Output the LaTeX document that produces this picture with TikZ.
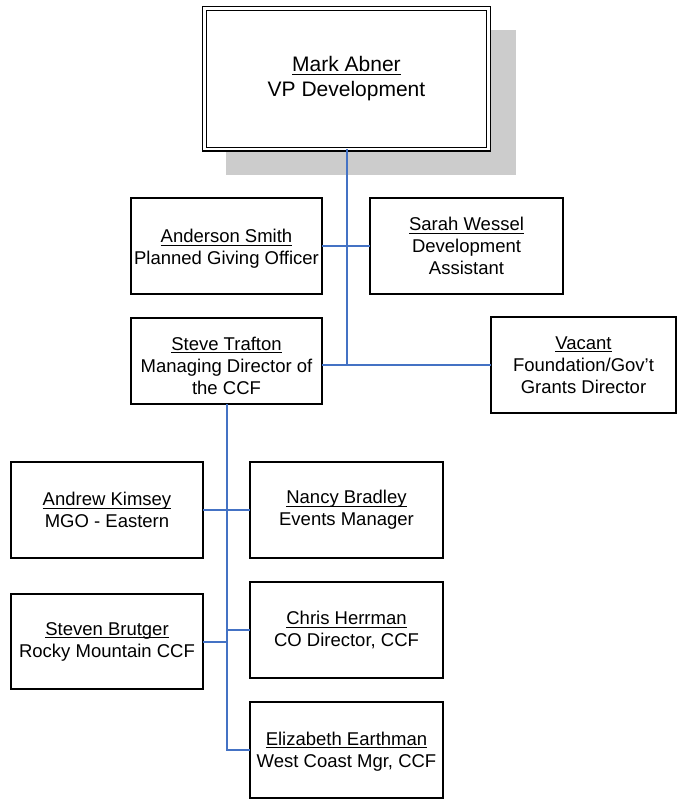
\documentclass[tikz,border=0pt]{standalone}
\usepackage{amsmath}
\usepackage{fontspec}
\setmainfont{Liberation Sans}
\newcommand{\nmu}[1]{\underline{\smash[b]{#1}}}
\definecolor{linkblue}{RGB}{68,114,196}
\definecolor{shadowgray}{RGB}{204,204,204}
\tikzset{
  box/.style={draw=black, line width=1.3pt, fill=white, rectangle, inner sep=0pt, outer sep=0pt,
    align=center, font=\fontsize{18.5}{22}\selectfont},
  topbox/.style={draw=black, line width=1.2pt, double=white, double distance=2.6pt, fill=white,
    rectangle, inner sep=0pt, outer sep=0pt, align=center, font=\fontsize{21}{25}\selectfont},
  link/.style={draw=linkblue, line width=2pt},
  shadowbox/.style={fill=shadowgray, draw=none, rectangle, inner sep=0pt, outer sep=0pt}
}
\begin{document}
\begin{tikzpicture}[x=1pt,y=-1pt]
\useasboundingbox (0,0) rectangle (677,800);
% shadow of top box
\node[shadowbox, minimum width=290pt, minimum height=145pt] (shadow) at (371,102.5) {};
% top box
\node[topbox, minimum width=284pt, minimum height=140.5pt] (mark) at (346.5,78.75)
  {\nmu{Mark Abner}\\VP Development};
% second level
\node[box, minimum width=191pt, minimum height=96pt] (anderson) at (226.5,246)
  {\rule{0pt}{19.5pt}\nmu{Anderson Smith}\\Planned Giving Officer};
\node[box, minimum width=193pt, minimum height=96pt] (sarah) at (466.5,246)
  {\nmu{Sarah Wessel}\\Development\\Assistant};
\node[box, minimum width=191pt, minimum height=86pt] (steve) at (226.5,361)
  {\rule{0pt}{23pt}\nmu{Steve Trafton}\\Managing Director of\\the CCF};
\node[box, minimum width=185pt, minimum height=96pt] (vacant) at (583.5,365)
  {\nmu{Vacant}\\Foundation/Gov’t\\Grants Director};
% third level
\node[box, minimum width=192pt, minimum height=96pt] (andrew) at (107,510)
  {\nmu{Andrew Kimsey}\\MGO - Eastern};
\node[box, minimum width=193pt, minimum height=96pt] (nancy) at (346.5,510)
  {\nmu{Nancy Bradley}\\Events Manager};
\node[box, minimum width=192pt, minimum height=95pt] (steven) at (107,641.5)
  {\nmu{Steven Brutger}\\Rocky Mountain CCF};
\node[box, minimum width=193pt, minimum height=96pt] (chris) at (346.5,630)
  {\nmu{Chris Herrman}\\CO Director, CCF};
\node[box, minimum width=193pt, minimum height=96pt] (eliz) at (346.5,750)
  {\rule{0pt}{16pt}\nmu{Elizabeth Earthman}\\West Coast Mgr, CCF};
% connectors
\coordinate (j1) at (mark.south |- vacant.west);
\draw[link] (mark.south) -- (j1);
\draw[link] (anderson.east) -- (sarah.west);
\draw[link] (steve.east |- j1) -- (vacant.west);
\coordinate (j2) at (steve.south |- eliz.west);
\draw[link] (steve.south) -- (j2) -- (eliz.west);
\draw[link] (andrew.east) -- (nancy.west);
\draw[link] (steven.east) -- (steven.east -| steve.south);
\draw[link] (chris.west) -- (chris.west -| steve.south);
\end{tikzpicture}
\end{document}
